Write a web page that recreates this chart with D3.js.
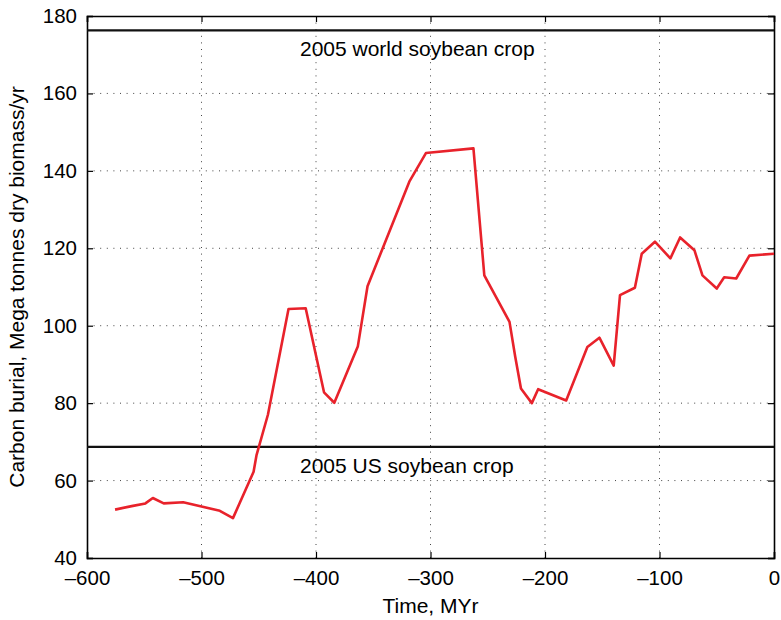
<!DOCTYPE html>
<html lang="en">
<head>
<meta charset="UTF-8">
<title>Carbon burial over time</title>
<style>
  body { margin: 0; background: #fff; }
  svg { display: block; font-family: "Liberation Sans", Arial, Helvetica, sans-serif; }
  .grid line { stroke: #444; stroke-width: 1; stroke-dasharray: 1,5.6; }
  .tick-label { font-size: 20.5px; fill: #000; }
  .label { font-size: 21px; fill: #000; }
</style>
</head>
<body>
<svg width="781" height="620"></svg>
<script src="https://d3js.org/d3.v7.min.js"></script>
<script>
// time in MYr (negative = past) and carbon burial values
const timeMyr = [-575.5, -561, -549, -542.5, -533, -516, -500, -484, -472.5, -454.5,
  -452, -442, -424, -409, -393, -384, -363.5, -355, -318.5, -304,
  -262.5, -253, -231, -226, -221, -211.5, -206, -181.5, -163, -152.5,
  -140, -134.5, -121.5, -115.5, -104, -90.5, -82, -69.5, -62.5, -50,
  -43.5, -33, -21.5, 0];
const carbonBurial = [52.5, 53.4, 54.1, 55.5, 54.1, 54.4, 53.3, 52.2, 50.3, 62.3,
  66.5, 77, 104.3, 104.5, 82.8, 80.1, 94.6, 110.2, 137.2, 144.6,
  145.8, 113, 101, 92, 83.8, 80, 83.6, 80.7, 94.5, 96.9,
  89.7, 107.9, 109.8, 118.6, 121.7, 117.4, 122.8, 119.5, 113, 109.6,
  112.5, 112.2, 118.1, 118.6];

// reference crops
const refNames = ["2005 world soybean crop", "2005 US soybean crop"];
const refValues = [176.3, 68.7];

const xTicks = [-600, -500, -400, -300, -200, -100, 0];
const yTicks = [40, 60, 80, 100, 120, 140, 160, 180];

const margin = {top: 16, right: 7, bottom: 62, left: 87};
const W = 781, H = 620;
const width = W - margin.left - margin.right,
      height = H - margin.top - margin.bottom;

const svg = d3.select("svg");
const g = svg.append("g")
  .attr("transform", "translate(" + margin.left + "," + margin.top + ")");

const x = d3.scaleLinear().domain([-600, 0]).range([0, width]);
const y = d3.scaleLinear().domain([40, 180]).range([height, 0]);

// dotted grid
const grid = g.append("g").attr("class", "grid");
grid.selectAll(".gx").data(xTicks.slice(1, -1)).enter().append("line")
  .attr("x1", d => x(d)).attr("x2", d => x(d))
  .attr("y1", 0).attr("y2", height);
grid.selectAll(".gy").data(yTicks.slice(1, -1)).enter().append("line")
  .attr("x1", 0).attr("x2", width)
  .attr("y1", d => y(d)).attr("y2", d => y(d));

// axes with inward ticks on all four sides
const fmt = d => d < 0 ? "\u2013" + Math.abs(d) : String(d);
const axB = g.append("g").attr("transform", "translate(0," + height + ")")
  .call(d3.axisBottom(x).tickValues(xTicks).tickSize(-6).tickPadding(12).tickFormat(fmt));
const axT = g.append("g")
  .call(d3.axisTop(x).tickValues(xTicks).tickSize(-6).tickFormat(""));
const axL = g.append("g")
  .call(d3.axisLeft(y).tickValues(yTicks).tickSize(-6).tickPadding(10).tickFormat(fmt));
const axR = g.append("g").attr("transform", "translate(" + width + ",0)")
  .call(d3.axisRight(y).tickValues(yTicks).tickSize(-6).tickFormat(""));

[axB, axT, axL, axR].forEach(a => {
  a.select(".domain").attr("stroke", "#000").attr("stroke-width", 1.6);
  a.selectAll(".tick line").attr("stroke", "#000").attr("stroke-width", 1.2);
  a.selectAll(".tick text").attr("class", "tick-label").attr("font-size", null).attr("font-family", null);
});
axB.selectAll(".tick text").attr("dy", "0.75em");

// horizontal reference lines
g.selectAll(".ref").data(refValues).enter().append("line")
  .attr("x1", 0).attr("x2", width)
  .attr("y1", d => y(d)).attr("y2", d => y(d))
  .attr("stroke", "#111").attr("stroke-width", 2.2);
g.selectAll(".refLabel").data(refNames).enter().append("text")
  .attr("class", "label")
  .attr("x", x(-414))
  .attr("y", (d, i) => y(refValues[i]) + 26)
  .text(d => d);

// carbon burial line
const pts = timeMyr.map((t, i) => [t, carbonBurial[i]]);
g.append("path")
  .datum(pts)
  .attr("fill", "none")
  .attr("stroke", "#e8222b")
  .attr("stroke-width", 2.6)
  .attr("stroke-linejoin", "round")
  .attr("d", d3.line().x(d => x(d[0])).y(d => y(d[1])));

// axis titles
svg.append("text").attr("class", "label")
  .attr("x", margin.left + width / 2).attr("y", 613)
  .attr("text-anchor", "middle")
  .text("Time, MYr");
svg.append("text").attr("class", "label")
  .attr("transform", "translate(24," + (margin.top + height / 2) + ") rotate(-90)")
  .attr("text-anchor", "middle")
  .text("Carbon burial, Mega tonnes dry biomass/yr");
</script>
</body>
</html>
